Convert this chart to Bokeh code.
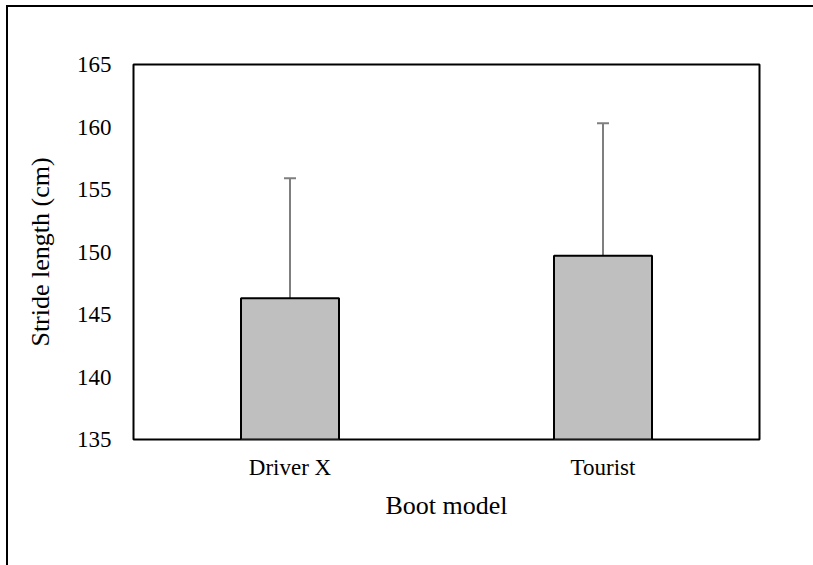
from bokeh.plotting import figure
from bokeh.models import ColumnDataSource, Range1d, FactorRange, Whisker, TeeHead
from bokeh.layouts import column
from bokeh.embed import file_html
from bokeh.resources import INLINE

categories = ["Driver X", "Tourist"]
means = [146.3, 149.7]
sds = [9.6, 10.6]
y_ticks = [135, 140, 145, 150, 155, 160, 165]

upper = [m + s for m, s in zip(means, sds)]
src = ColumnDataSource(dict(cat=categories, mean=means, upper=upper))

FONT = "Liberation Serif"

p = figure(width=805, height=558, x_range=FactorRange(*categories), y_range=Range1d(135, 165),
           output_backend="svg", toolbar_location=None,
           min_border_left=125, min_border_right=54, min_border_top=57, min_border_bottom=126)

p.vbar(x="cat", top="mean", bottom=135, width=0.313, source=src,
       fill_color="#BFBFBF", line_color="black", line_width=2)

w = Whisker(base="cat", lower="mean", upper="upper", source=src,
            line_color="#7F7F7F", line_width=2,
            upper_head=TeeHead(size=12, line_color="#7F7F7F", line_width=2),
            lower_head=None)
p.add_layout(w)

p.outline_line_color = "black"
p.outline_line_width = 2
p.xgrid.grid_line_color = None
p.ygrid.grid_line_color = None

p.yaxis.ticker = y_ticks
for ax in (p.xaxis, p.yaxis):
    ax.axis_line_color = None
    ax.major_tick_line_color = None
    ax.minor_tick_line_color = None
    ax.major_label_text_font = FONT
    ax.major_label_text_font_size = "23px"
    ax.major_label_text_color = "black"
    ax.axis_label_text_font = FONT
    ax.axis_label_text_font_size = "26px"
    ax.axis_label_text_font_style = "normal"
    ax.axis_label_text_color = "black"

p.xaxis.axis_label = "Boot model"
p.yaxis.axis_label = "Stride length (cm)"
p.yaxis.major_label_standoff = 16
p.xaxis.major_label_standoff = 9
p.xaxis.axis_label_standoff = 8
p.yaxis.axis_label_standoff = 19
p.x_range.range_padding = 0

layout = column(p, width=807, height=560,
                styles={"border-left": "2px solid black", "border-top": "2px solid black",
                        "position": "absolute", "left": "6px", "top": "5px",
                        "overflow": "hidden"})

open("out.html", "w").write(file_html(layout, INLINE))
